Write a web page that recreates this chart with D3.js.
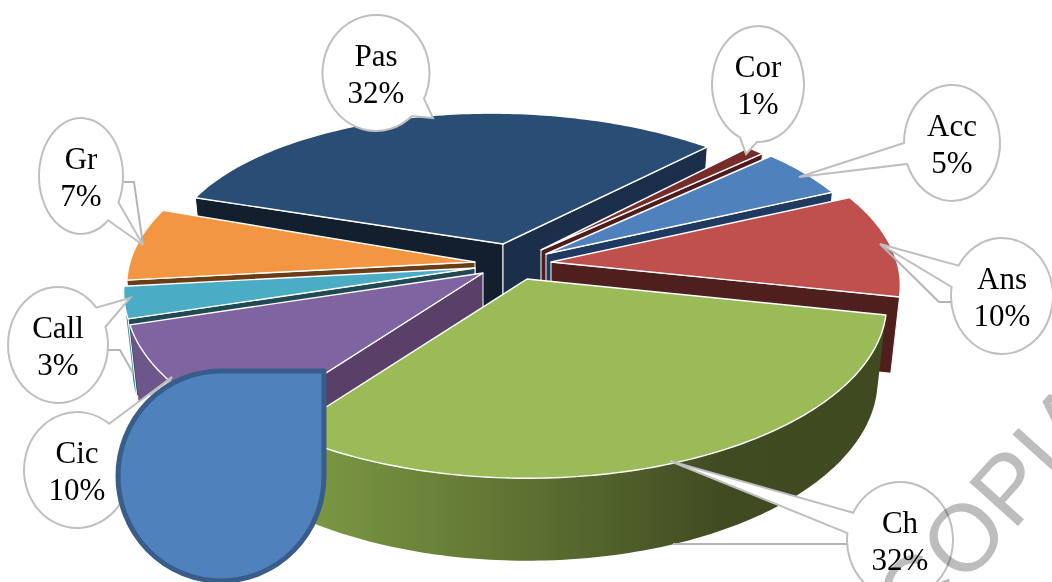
<!DOCTYPE html>
<html>
<head>
<meta charset="utf-8">
<script src="https://cdnjs.cloudflare.com/ajax/libs/d3/7.8.5/d3.min.js"></script>
<style>
html, body { margin: 0; padding: 0; background: #fff; overflow: hidden; }
text { font-family: "Liberation Serif", serif; }
</style>
</head>
<body>
<div id="chart"></div>
<script>
// values
var labels = ["Pas", "Cor", "Acc", "Ans", "Ch", "Cic", "Call", "Gr"];
var values = [32, 1, 5, 10, 32, 10, 3, 7];

// exploded layout of each slice (apex on screen, radius, tilt, skew)
var apexX = [503, 541, 546, 551, 527, 483, 475, 475];
var apexY = [244, 250, 254, 262, 279, 273, 268, 262];
var radii = [335, 325, 331, 346, 356, 354, 348, 345];
var tilts = [0.443, 0.48, 0.48, 0.48, 0.48, 0.48, 0.48, 0.48];
var skews = [0.04, 0, 0, 0, 0, 0, 0, 0];

// colours: top face, wall on the start side, wall on the end side, outer wall
var topColors = ["#2a4d76", "#772c2a", "#4f81bd", "#c0504d", "#9bbb59", "#8064a2", "#4bacc6", "#f39642"];
var startWall = ["#121f2f", "#4f1c1b", "#1f3a60", "#4f1f1e", "#5f7534", "#5a3f68", "#1f4a55", "#6a3d16"];
var endWall = ["#1b2f4a", "#4f1c1b", "#1f3a60", "#4f1f1e", "#404b22", "#5a3f68", "#1f4a55", "#6a3d16"];
var outerWall = ["#1b2f4a", "#4f1c1b", "#1f3a60", "#4f1f1e", "url(#chSide)", "#6d5689", "#2f7f92", "#a86a2c"];

// draw order, back to front
var drawOrder = [0, 1, 2, 3, 7, 6, 5, 4];

// callouts: ellipse, tail base points, tail tip, optional extra leader
var callouts = [
    { cx: 376, cy: 73, rx: 53.5, ry: 58, base1: [412, 116], base2: [423, 98], tip: [433, 118] },
    { cx: 758, cy: 84, rx: 46, ry: 58, base1: [740, 137], base2: [757, 142], tip: [746, 154] },
    { cx: 952, cy: 143, rx: 48, ry: 58, base1: [904, 143], base2: [907, 164], tip: [799, 177] },
    { cx: 1002, cy: 296, rx: 51, ry: 58, base1: [952, 287], base2: [959, 266], tip: [880, 244], extra: [[952, 302], [939, 302], [880, 244]] },
    { cx: 900, cy: 540, rx: 53, ry: 58, base1: [847, 533], base2: [852, 512], tip: [670, 461], extra: [[847, 544], [673, 544]] },
    { cx: 77, cy: 470, rx: 53, ry: 58, base1: [109, 424], base2: [126, 446], tip: [172, 377] },
    { cx: 58, cy: 345, rx: 50, ry: 58, base1: [96, 308], base2: [105, 327], tip: [130, 298], extra: [[108, 350], [120, 350], [133, 373]] },
    { cx: 81, cy: 176, rx: 42, ry: 58, base1: [108, 220], base2: [118, 202], tip: [143, 245], extra: [[123, 182], [134, 182], [143, 245]] }
];
var calloutOrder = [0, 1, 2, 3, 4, 6, 7, 5];

var width = 1052, height = 582;
var persp = 0.14, refRadius = 350;
var depth = 75, shrink = 0.025;
var startDeg = -71;

var svg = d3.select("#chart").append("svg")
    .attr("width", width)
    .attr("height", height)
    .style("display", "block");

svg.append("rect").attr("width", width).attr("height", height).attr("fill", "#fff");

var grad = svg.append("defs").append("linearGradient")
    .attr("id", "chSide")
    .attr("gradientUnits", "userSpaceOnUse")
    .attr("x1", 320).attr("x2", 880).attr("y1", 0).attr("y2", 0);
grad.append("stop").attr("offset", "0%").attr("stop-color", "#7a9642");
grad.append("stop").attr("offset", "40%").attr("stop-color", "#5a6e30");
grad.append("stop").attr("offset", "72%").attr("stop-color", "#404b22");
grad.append("stop").attr("offset", "100%").attr("stop-color", "#3f4a21");

var rad = Math.PI / 180;
var arcs = d3.pie().sort(null).value(d => d)
    .startAngle(startDeg * rad)
    .endAngle((startDeg + 360) * rad)(values);

// ground position of a slice point to screen, z = 0 on top, 1 at the bottom
function project(i, angle, r, z) {
    var u = r * Math.sin(angle);
    var v = -r * Math.cos(angle);
    var w = 1 / (1 - persp * v / refRadius);
    var s = 1 - shrink * z;
    return [apexX[i] + (u + skews[i] * v) * w * s, apexY[i] + (tilts[i] * v * s + depth * z) * w];
}

var line = d3.line();
var pie3d = svg.append("g");

drawOrder.forEach(function (i) {
    var a = arcs[i];
    var r = radii[i];
    var steps = Math.max(4, Math.ceil((a.endAngle - a.startAngle) / rad));
    var angles = d3.range(steps + 1).map(k => a.startAngle + (a.endAngle - a.startAngle) * k / steps);

    // outer wall, only the part that faces the viewer
    var seen = angles.filter(function (t, k) {
        var next = angles[k + 1], prev = angles[k - 1];
        var leftward = (p, q) => project(i, q, r, 0)[0] < project(i, p, r, 0)[0];
        return (next !== undefined && leftward(t, next)) || (prev !== undefined && leftward(prev, t));
    });
    if (seen.length > 1) {
        var band = seen.map(t => project(i, t, r, 0))
            .concat(seen.slice().reverse().map(t => project(i, t, r, 1)));
        pie3d.append("path").attr("d", line(band) + "Z").attr("fill", outerWall[i]);
    }

    // radial walls
    [[a.startAngle, startWall[i], Math.sin(a.startAngle) < 0],
     [a.endAngle, endWall[i], Math.sin(a.endAngle) > 0]].forEach(function (wall) {
        if (!wall[2]) return;
        var quad = [project(i, 0, 0, 0), project(i, wall[0], r, 0), project(i, wall[0], r, 1), project(i, 0, 0, 1)];
        pie3d.append("path").attr("d", line(quad) + "Z")
            .attr("fill", wall[1])
            .attr("stroke", "#fff").attr("stroke-width", 1).attr("stroke-linejoin", "round");
    });

    // top face
    var face = [project(i, 0, 0, 0)].concat(angles.map(t => project(i, t, r, 0)));
    pie3d.append("path").attr("d", line(face) + "Z")
        .attr("fill", topColors[i])
        .attr("stroke", "#fff").attr("stroke-width", 1.4).attr("stroke-linejoin", "round");
});

// callout with its wedge tail: snap the tail base to the ellipse, then go the long way round
function calloutPath(c) {
    var t1 = Math.atan2((c.base1[1] - c.cy) / c.ry, (c.base1[0] - c.cx) / c.rx);
    var t2 = Math.atan2((c.base2[1] - c.cy) / c.ry, (c.base2[0] - c.cx) / c.rx);
    var d = t2 - t1;
    while (d > Math.PI) d -= 2 * Math.PI;
    while (d < -Math.PI) d += 2 * Math.PI;
    var p1 = [c.cx + c.rx * Math.cos(t1), c.cy + c.ry * Math.sin(t1)];
    var p2 = [c.cx + c.rx * Math.cos(t2), c.cy + c.ry * Math.sin(t2)];
    return "M" + p1 + "A" + c.rx + "," + c.ry + " 0 1 " + (d > 0 ? 0 : 1) + " " + p2 + "L" + c.tip + "Z";
}

var notes = svg.append("g");
calloutOrder.forEach(function (i) {
    var c = callouts[i];
    if (c.extra) {
        notes.append("path").attr("d", line(c.extra))
            .attr("fill", "none").attr("stroke", "#b5b5b5").attr("stroke-width", 2);
    }
    notes.append("path").attr("d", calloutPath(c))
        .attr("fill", "#fff").attr("stroke", "#bfbfbf").attr("stroke-width", 2);
    notes.append("text").attr("x", c.cx).attr("y", c.cy - 7)
        .attr("text-anchor", "middle").attr("font-size", 31).attr("fill", "#000")
        .text(labels[i]);
    notes.append("text").attr("x", c.cx).attr("y", c.cy + 30)
        .attr("text-anchor", "middle").attr("font-size", 31).attr("fill", "#000")
        .text(values[i] + "%");
});

// teardrop shape sitting over the chart
svg.append("path")
    .attr("d", "M221,371L324,371L324,476A103,105 0 1 1 221,371Z")
    .attr("fill", "#4f81bd")
    .attr("stroke", "#385d8a")
    .attr("stroke-width", 5)
    .attr("stroke-linejoin", "round");

// the Cic leader stays on top of the teardrop edge
var cic = callouts[5];
svg.append("line")
    .attr("x1", 150).attr("y1", 395).attr("x2", cic.tip[0]).attr("y2", cic.tip[1])
    .attr("stroke", "#bfbfbf").attr("stroke-width", 2);

// watermark
svg.append("text")
    .attr("transform", "translate(991,505) rotate(-48)")
    .attr("text-anchor", "middle")
    .attr("dy", "0.36em")
    .attr("font-size", 95)
    .attr("fill", "#bdbdbd")
    .style("font-family", "'Liberation Sans', sans-serif")
    .style("mix-blend-mode", "multiply")
    .text("COPIA");
</script>
</body>
</html>
